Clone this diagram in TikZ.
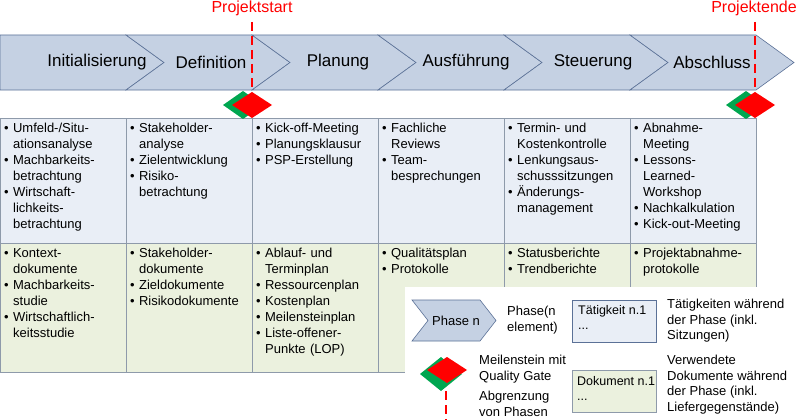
\documentclass[tikz,border=0pt]{standalone}
\usepackage{fontspec}
\setmainfont{Liberation Sans}
\begin{document}
\begin{tikzpicture}[x=1pt,y=-1pt,
  chev/.style={fill=chevfill,draw=chevline,line width=0.6pt},
  phtxt/.style={font=\fontsize{17}{19}\selectfont,anchor=center},
  cell/.style={anchor=north west,align=left,inner sep=0pt,font=\fontsize{13}{16}\selectfont,text width=122pt},
  act/.style={fill=actfill,draw=gridline,line width=0.5pt},
  doc/.style={fill=docfill,draw=gridline,line width=0.5pt},
  bound/.style={draw=red,dashed,dash pattern=on 9pt off 5pt,line width=1.2pt},
  redtxt/.style={text=red,font=\fontsize{16}{18}\selectfont},
  lg/.style={font=\fontsize{13}{15.5}\selectfont,align=left,anchor=north west,inner sep=0pt},
  lgbox/.style={font=\fontsize{12.5}{15.5}\selectfont,align=left,anchor=north west,inner sep=0pt}]
\definecolor{chevfill}{HTML}{C5D1E3}
\definecolor{chevline}{HTML}{5B7197}
\definecolor{actfill}{HTML}{E9EEF6}
\definecolor{docfill}{HTML}{EBF1DE}
\definecolor{gridline}{HTML}{8E9AAA}
\definecolor{msgreen}{HTML}{00A650}
\useasboundingbox (0,0) rectangle (800,420);
% activity and document rows
\foreach \a/\b in {0/126,126/252,252/378,378/504,504/630,630/756}{
  \draw[act] (\a,118) rectangle (\b,243);
  \draw[doc] (\a,243) rectangle (\b,372);
}
% chevrons
\draw[chev] (0,35) -- (126,35) -- (164,62.5) -- (126,90) -- (0,90) -- cycle;
\foreach \a in {126,252,378,504,630}{
  \draw[chev] (\a,35) -- (\a+126,35) -- (\a+164,62.5) -- (\a+126,90) -- (\a,90) -- (\a+38,62.5) -- cycle;
}
\node[phtxt] (p1) at (97,62.5) {Initialisierung};
\node[phtxt] (p2) at (211,62.5) {Definition};
\node[phtxt] (p3) at (338,62.5) {Planung};
\node[phtxt] (p4) at (466,62.5) {Ausführung};
\node[phtxt] (p5) at (593,62.5) {Steuerung};
\node[phtxt] (p6) at (712,62.5) {Abschluss};
% boundaries
\node[redtxt] (ps) at (252,8) {Projektstart};
\node[redtxt] (pe) at (754,8) {Projektende};
\coordinate (b1t) at (252,22); \coordinate (b1b) at (252,92);
\coordinate (b2t) at (755,22); \coordinate (b2b) at (755,92);
\draw[bound] (b1t) -- (b1b);
\draw[bound] (b2t) -- (b2b);
% milestones
\foreach \c in {252,755}{
  \fill[msgreen] (\c-29,105) -- (\c-9,91) -- (\c+11,105) -- (\c-9,119) -- cycle;
  \fill[red] (\c-20,105) -- (\c,92) -- (\c+20,105) -- (\c,118) -- cycle;
}
% activity texts
\node[cell] (a1) at (4,123) {• Umfeld-/Situ-\\\hspace*{9pt}ationsanalyse\\• Machbarkeits-\\\hspace*{9pt}betrachtung\\• Wirtschaft-\\\hspace*{9pt}lichkeits-\\\hspace*{9pt}betrachtung};
\node[cell] (a2) at (130,123) {• Stakeholder-\\\hspace*{9pt}analyse\\• Zielentwicklung\\• Risiko-\\\hspace*{9pt}betrachtung};
\node[cell] (a3) at (256,123) {• Kick-off-Meeting\\• Planungsklausur\\• PSP-Erstellung};
\node[cell] (a4) at (382,123) {• Fachliche\\\hspace*{9pt}Reviews\\• Team-\\\hspace*{9pt}besprechungen};
\node[cell] (a5) at (508,123) {• Termin- und\\\hspace*{9pt}Kostenkontrolle\\• Lenkungsaus-\\\hspace*{9pt}schusssitzungen\\• Änderungs-\\\hspace*{9pt}management};
\node[cell] (a6) at (634,123) {• Abnahme-\\\hspace*{9pt}Meeting\\• Lessons-\\\hspace*{9pt}Learned-\\\hspace*{9pt}Workshop\\• Nachkalkulation\\• Kick-out-Meeting};
% document texts
\node[cell] (d1) at (4,248) {• Kontext-\\\hspace*{9pt}dokumente\\• Machbarkeits-\\\hspace*{9pt}studie\\• Wirtschaftlich-\\\hspace*{9pt}keitsstudie};
\node[cell] (d2) at (130,248) {• Stakeholder-\\\hspace*{9pt}dokumente\\• Zieldokumente\\• Risikodokumente};
\node[cell] (d3) at (256,248) {• Ablauf- und\\\hspace*{9pt}Terminplan\\• Ressourcenplan\\• Kostenplan\\• Meilensteinplan\\• Liste-offener-\\\hspace*{9pt}Punkte (LOP)};
\node[cell] (d4) at (382,248) {• Qualitätsplan\\• Protokolle};
\node[cell] (d5) at (508,248) {• Statusberichte\\• Trendberichte};
\node[cell] (d6) at (634,248) {• Projektabnahme-\\\hspace*{9pt}protokolle};
% legend
\fill[white] (405,287) rectangle (800,420);
\draw[chev] (412,300) -- (480,300) -- (496,320.5) -- (480,341) -- (412,341) -- (428,320.5) -- cycle;
\node[font=\fontsize{13}{15}\selectfont] (lp) at (456,320.5) {Phase n};
\node[lg] (lpt) at (507,306) {Phase(n\\element)};
\draw[act,draw=chevline] (572,300) rectangle (656,342);
\node[lgbox] (lt) at (578,305) {Tätigkeit n.1\\...};
\node[lg] (ltt) at (667,299) {Tätigkeiten während\\der Phase (inkl.\\Sitzungen)};
\fill[msgreen] (420,374) -- (441,357) -- (462,374) -- (441,391) -- cycle;
\fill[red] (427,370) -- (447,357) -- (467,370) -- (447,383) -- cycle;
\node[lg] (lm) at (479,355) {Meilenstein mit\\Quality Gate};
\coordinate (lbt) at (446,391); \coordinate (lbb) at (446,420);
\draw[bound] (lbt) -- (lbb);
\node[lg] (lb) at (479,391) {Abgrenzung\\von Phasen};
\draw[doc,draw=gridline] (572,370) rectangle (656,412);
\node[lgbox] (ld) at (577,376) {Dokument n.1\\...};
\node[lg] (ldt) at (667,355) {Verwendete\\Dokumente während\\der Phase (inkl.\\Liefergegenstände)};
\end{tikzpicture}
\end{document}
